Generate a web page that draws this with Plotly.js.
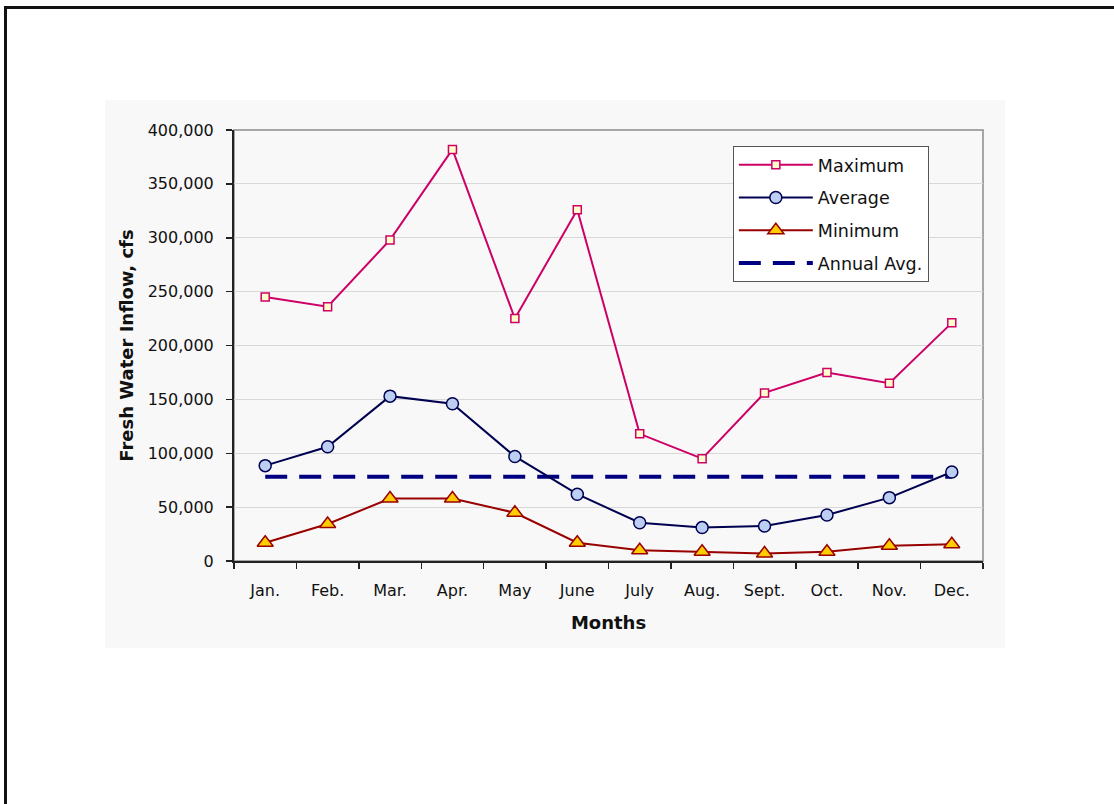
<!DOCTYPE html>
<html>
<head>
<meta charset="utf-8">
<script src="https://cdn.plot.ly/plotly-3.0.1.min.js"></script>
<style>
  html, body { margin: 0; padding: 0; background: #ffffff; overflow: hidden; }
  #frame { position: absolute; left: 4px; top: 6px; width: 1200px; height: 900px;
           border-top: 3px solid #111; border-left: 3px solid #111; }
  #chart { position: absolute; left: 0; top: 0; width: 1114px; height: 804px; }
</style>
</head>
<body>
<div id="frame"></div>
<div id="chart"></div>
<script>
// ---- data ----
var months = ["Jan.", "Feb.", "Mar.", "Apr.", "May", "June", "July", "Aug.", "Sept.", "Oct.", "Nov.", "Dec."];
var maximum = [245000, 236000, 298000, 382000, 225000, 326000, 118000, 95000, 156000, 175000, 165000, 221000];
var average = [88500, 106000, 153000, 146000, 97000, 62000, 35500, 31000, 32500, 42700, 58800, 82600];
var minimum = [17000, 34300, 58000, 58000, 44800, 17000, 10000, 8600, 7000, 8600, 14200, 15500];
var annualAvgValue = 78200;
var annualAvg = months.map(function () { return annualAvgValue; });
var seriesNames = ["Maximum", "Average", "Minimum", "Annual Avg."];

var font = "DejaVu Sans, Liberation Sans, Arial, sans-serif";

var traces = [
  {
    x: months, y: annualAvg, name: seriesNames[3], type: "scatter", mode: "lines",
    line: { color: "#000080", width: 4, dash: "22px,12px" },
    legendrank: 4, legendgroup: "d"
  },
  {
    x: months, y: maximum, name: seriesNames[0], type: "scatter", mode: "lines+markers",
    line: { color: "#cc0066", width: 2 },
    marker: { symbol: "square", size: 8, color: "#ffffcc", line: { color: "#cc0066", width: 1.5 } },
    legendrank: 1, legendgroup: "a"
  },
  {
    x: months, y: average, name: seriesNames[1], type: "scatter", mode: "lines+markers",
    line: { color: "#000050", width: 2 },
    marker: { symbol: "circle", size: 12, color: "#bccff2", line: { color: "#000050", width: 1.5 } },
    legendrank: 2, legendgroup: "b"
  },
  {
    x: months, y: minimum, name: seriesNames[2], type: "scatter", mode: "lines+markers",
    line: { color: "#990000", width: 2 },
    marker: { symbol: "triangle-up", size: 14, color: "#ffcc00", line: { color: "#990000", width: 1.5 } },
    legendrank: 3, legendgroup: "c"
  }
];

var layout = {
  width: 1114, height: 804,
  margin: { l: 234, r: 131, t: 130, b: 243, pad: 0 },
  paper_bgcolor: "rgba(0,0,0,0)",
  plot_bgcolor: "rgba(0,0,0,0)",
  font: { family: font, size: 16, color: "#111" },
  showlegend: true,
  legend: {
    x: 0.666, y: 0.963, xanchor: "left", yanchor: "top",
    bgcolor: "#ffffff", bordercolor: "#555555", borderwidth: 1,
    font: { family: font, size: 17.5, color: "#111" },
    itemwidth: 74, tracegroupgap: 7
  },
  xaxis: {
    type: "category",
    range: [-0.5, 11.5],
    showgrid: false, zeroline: false,
    showline: true, linecolor: "#222", linewidth: 2,
    ticks: "outside", ticklen: 6, tickcolor: "#222", tickwidth: 1.5,
    tickson: "boundaries", ticklabelstandoff: 14,
    tickfont: { family: font, size: 16, color: "#111" },
    title: { text: "<b>Months</b>", font: { family: font, size: 18, color: "#111" }, standoff: 17 }
  },
  yaxis: {
    range: [0, 400000], dtick: 50000, tickformat: ",d",
    showgrid: true, gridcolor: "#d8d8d8", gridwidth: 1,
    zeroline: false,
    showline: true, linecolor: "#222", linewidth: 2,
    ticks: "outside", ticklen: 6, tickcolor: "#222", tickwidth: 1.5,
    ticklabelstandoff: 9,
    tickfont: { family: font, size: 16, color: "#111" },
    title: { text: "<b>Fresh Water Inflow, cfs</b>", font: { family: font, size: 18, color: "#111" }, standoff: 9 }
  },
  shapes: [
    { type: "rect", xref: "paper", yref: "paper", x0: -0.172, x1: 1.0294, y0: -0.2019, y1: 1.0696,
      fillcolor: "#f8f8f8", line: { width: 0 }, layer: "below" },
    { type: "rect", xref: "paper", yref: "paper", x0: 0, x1: 1, y0: 0, y1: 1,
      fillcolor: "rgba(0,0,0,0)", line: { color: "#8a8a8a", width: 1.5 }, layer: "below" }
  ]
};

Plotly.newPlot("chart", traces, layout, { displayModeBar: false, staticPlot: true });
</script>
</body>
</html>
